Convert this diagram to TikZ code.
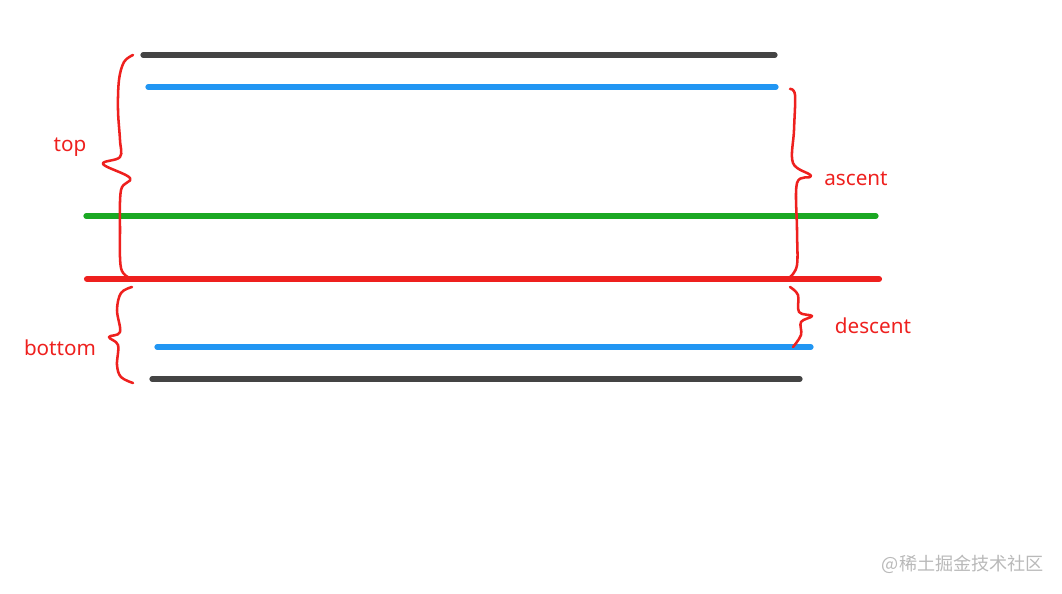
\documentclass[tikz,border=0pt]{standalone}
\usepackage{fontspec}
\setmainfont{Noto Sans}
\newfontfamily\cjk{Noto Sans CJK SC}
\usepackage{tikz}
\definecolor{darkline}{RGB}{68,68,68}
\definecolor{blueline}{RGB}{33,150,243}
\definecolor{greenline}{RGB}{27,168,35}
\definecolor{redline}{RGB}{238,32,30}
\definecolor{markgray}{RGB}{185,185,185}

\begin{document}
\begin{tikzpicture}[x=0.75pt,y=-0.75pt,line cap=round,
  metric line/.style={line width=3.9pt},
  brace line/.style={draw=redline,line width=1.9pt,line join=round},
  metric label/.style={text=redline,font=\fontsize{15.5}{18}\selectfont}]

  \useasboundingbox (0,0) rectangle (1062,593);

  \draw[metric line,darkline] (143,55) -- (775,55);
  \draw[metric line,blueline] (148,87) -- (776,87);
  \draw[metric line,greenline] (86,216) -- (876,216);
  \draw[metric line,redline,line width=4.6pt] (87,279) -- (879,279);
  \draw[metric line,blueline] (157,347) -- (811,347);
  \draw[metric line,darkline] (152,379) -- (800,379);

  % braces
  \draw[brace line] plot[smooth,tension=0.6] coordinates
    {(133,55) (124,62) (119,80) (118,110) (120,140) (120,157) (103,164) (130,178) (121,190) (120,230) (121,268) (130,278)};
  \draw[brace line] plot[smooth,tension=0.6] coordinates
    {(132,287) (121,293) (117,310) (120,332) (109,337) (118,345) (117,365) (121,377) (133,383)};
  \draw[brace line] plot[smooth,tension=0.6] coordinates
    {(790,89) (795,95) (794,130) (793,163) (811,176) (797,183) (797,230) (797,265) (790,277)};
  \draw[brace line] plot[smooth,tension=0.6] coordinates
    {(790,287) (798,295) (799,312) (812,316) (801,322) (801,335) (793,347)};

  \node[metric label] (top) at (70,147) {top};
  \node[metric label] (bottom) at (60,348) {bottom};
  \node[metric label] (ascent) at (856,179) {ascent};
  \node[metric label] (descent) at (873,326) {descent};

  \node[text=markgray,font=\cjk\fontsize{13.6}{16}\selectfont] (mark) at (963,564) {@稀土掘金技术社区};
\end{tikzpicture}
\end{document}
